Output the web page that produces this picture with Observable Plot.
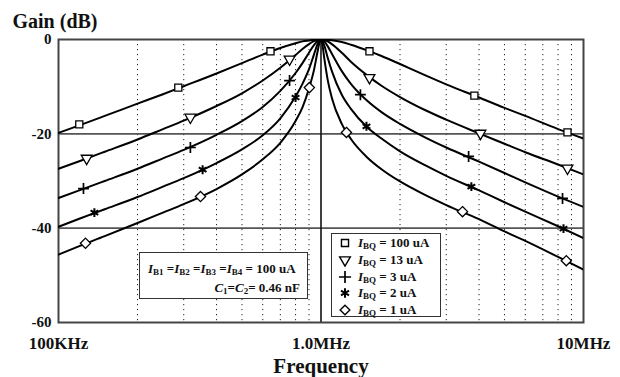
<!DOCTYPE html>
<html>
<head>
<meta charset="utf-8">
<script src="https://cdn.jsdelivr.net/npm/d3@7"></script>
<script src="https://cdn.jsdelivr.net/npm/@observablehq/plot@0.6"></script>
<style>
  html, body { margin: 0; padding: 0; background: #fff; }
  #wrap { position: relative; width: 620px; height: 377px; font-family: "Liberation Serif", "Times New Roman", serif; }
  .box { position: absolute; background: #fff; border: 1.5px solid #333; box-sizing: border-box; font-weight: bold; font-size: 13px; color: #111; }
  .box i { font-style: italic; }
  .box sub { font-size: 9px; vertical-align: -2px; line-height: 0; }
  .row { position: absolute; white-space: nowrap; line-height: 1; }
  .row svg { position: absolute; overflow: visible; }
</style>
</head>
<body>
<div id="wrap"></div>
<script>
// ---- data ----
const freqs = [1e5, 1.2e5, 1.5e5, 2e5, 2.5e5, 3e5, 4e5, 5e5, 6e5, 7e5, 8e5, 8.5e5, 9e5, 9.4e5, 9.7e5, 9.9e5,
               1e6, 1.01e6, 1.03e6, 1.06e6, 1.1e6, 1.2e6, 1.3e6, 1.5e6, 1.7e6, 2e6, 2.5e6, 3e6, 4e6, 5e6, 6e6, 8e6, 1e7];
const gain100uA = [-19.8, -18.2, -16.2, -13.6, -11.6, -9.9, -7.2, -5.0, -3.2, -1.8, -0.8, -0.4, -0.2, -0.06, -0.02, 0,
                   0, 0, -0.02, -0.06, -0.16, -0.55, -1.1, -2.3, -3.5, -5.2, -7.6, -9.5, -12.3, -14.5, -16.2, -19.0, -21.0];
const gain13uA = [-27.4, -25.8, -23.8, -21.2, -19.0, -17.2, -14.1, -11.4, -8.7, -6.0, -3.3, -2.0, -0.97, -0.36, -0.09, -0.01,
                  0, -0.01, -0.10, -0.39, -0.97, -2.8, -4.7, -7.6, -9.8, -12.2, -15.0, -17.0, -19.9, -22.1, -23.9, -26.5, -28.6];
const gain3uA = [-33.6, -32.0, -30.0, -27.4, -25.2, -23.4, -20.2, -17.3, -14.3, -10.9, -7.1, -5.0, -2.8, -1.2, -0.31, -0.04,
                 0, -0.05, -0.39, -1.4, -3.0, -6.7, -9.4, -13.0, -15.4, -17.9, -20.8, -22.9, -25.9, -28.3, -30.3, -33.3, -35.5];
const gain2uA = [-39.7, -38.0, -36.0, -33.4, -31.2, -29.4, -26.2, -23.3, -20.3, -16.7, -12.1, -9.4, -6.3, -3.2, -1.0, -0.12,
                 0, -0.17, -1.3, -3.8, -6.7, -11.7, -14.7, -18.6, -21.0, -23.7, -26.7, -28.9, -32.0, -34.5, -36.5, -39.6, -42.1];
const gain1uA = [-45.6, -43.8, -41.7, -38.9, -36.7, -34.9, -31.7, -28.6, -25.4, -21.9, -17.3, -14.4, -10.4, -6.5, -2.6, -0.38,
                 0, -0.71, -4.1, -8.5, -12.4, -17.9, -21.1, -25.0, -27.5, -30.1, -33.0, -35.1, -38.1, -40.7, -42.7, -46.1, -48.8];

// marker positions
const mk100Freq = [1.2e5, 2.86e5, 6.42e5, 1.53e6, 3.84e6, 8.69e6];
const mk100Gain = [-18.0, -10.2, -2.5, -2.5, -11.9, -19.7];
const mk13Freq = [1.28e5, 3.18e5, 7.59e5, 1.53e6, 4.05e6, 8.69e6];
const mk13Gain = [-25.2, -16.5, -4.2, -8.1, -19.9, -27.3];
const mk3Freq = [1.245e5, 3.18e5, 7.59e5, 1.413e6, 3.65e6, 8.32e6];
const mk3Gain = [-31.6, -22.9, -8.7, -11.7, -24.8, -33.7];
const mk2Freq = [1.37e5, 3.54e5, 8.0e5, 1.49e6, 3.74e6, 8.39e6];
const mk2Gain = [-36.7, -27.6, -12.3, -18.4, -31.2, -40.1];
const mk1Freq = [1.267e5, 3.475e5, 9.03e5, 1.25e6, 3.46e6, 8.6e6];
const mk1Gain = [-43.2, -33.3, -10.2, -19.7, -36.5, -46.9];

const seriesNames = ["100 uA", "13 uA", "3 uA", "2 uA", "1 uA"];
const yTicks = [0, -20, -40, -60];
const xTicks = [1e5, 1e6, 1e7];
const xTickLabels = ["100KHz", "1.0MHz", "10MHz"];
const minorTicks = [2e5, 3e5, 4e5, 5e5, 6e5, 7e5, 8e5, 9e5, 2e6, 3e6, 4e6, 5e6, 6e6, 7e6, 8e6, 9e6];
const majorY = [-20, -40];
const centerFreq = [1e6];

// ---- build tables ----
const curves = [gain100uA, gain13uA, gain3uA, gain2uA, gain1uA];
const lineData = curves.flatMap((g, s) => freqs.map((f, i) => ({f, g: g[i], s: seriesNames[s]})));
const toPts = (fs, gs) => fs.map((f, i) => ({f, g: gs[i]}));
const font = "Liberation Serif, Times New Roman, serif";

const dotStyle = {x: "f", y: "g", stroke: "#000", fill: "#fff", strokeWidth: 1.3};

const plot = Plot.plot({
  width: 620, height: 377,
  marginLeft: 58, marginRight: 37, marginTop: 39, marginBottom: 55,
  x: {type: "log", domain: [1e5, 1e7]},
  y: {domain: [-60, 0]},
  style: {fontFamily: font, background: "#fff", color: "#111"},
  marks: [
    Plot.ruleX(minorTicks, {stroke: "#222", strokeWidth: 1, strokeDasharray: "1.2,3.8"}),
    Plot.ruleY(majorY, {stroke: "#555", strokeWidth: 1.8}),
    Plot.ruleX(centerFreq, {stroke: "#111", strokeWidth: 1.6}),
    Plot.frame({stroke: "#444", strokeWidth: 2}),
    Plot.line(lineData, {x: "f", y: "g", z: "s", stroke: "#000", strokeWidth: 2, curve: "monotone-x", clip: true}),
    Plot.dot(toPts(mk100Freq, mk100Gain), {...dotStyle, symbol: "square", r: 4}),
    Plot.dot(toPts(mk13Freq, mk13Gain), {...dotStyle, symbol: "triangle", r: 4, rotate: 180}),
    Plot.dot(toPts(mk3Freq, mk3Gain), {...dotStyle, symbol: "plus", r: 3.6, strokeWidth: 1.7}),
    Plot.dot(toPts(mk2Freq, mk2Gain), {...dotStyle, symbol: "asterisk", r: 4.2, strokeWidth: 2}),
    Plot.dot(toPts(mk1Freq, mk1Gain), {...dotStyle, symbol: "diamond2", r: 4.6}),
    Plot.axisY(yTicks, {tickSize: 0, tickPadding: 7, fontSize: 15, fontWeight: "bold", label: null, tickFormat: d => String(d)}),
    Plot.axisX(xTicks, {tickSize: 0, tickPadding: 14, fontSize: 17, fontWeight: "bold", label: null,
      tickFormat: d => xTickLabels[xTicks.indexOf(d)]}),
    Plot.text(["Gain (dB)"], {frameAnchor: "top-left", textAnchor: "start", lineAnchor: "bottom",
      dx: -46, dy: -12, fontSize: 20, fontWeight: "bold"}),
    Plot.text(["Frequency"], {frameAnchor: "bottom", lineAnchor: "bottom", dy: 50, fontSize: 21, fontWeight: "bold"})
  ]
});

const wrap = document.getElementById("wrap");
wrap.appendChild(plot);

// ---- legend box ----
const symbolTypes = [
  {t: d3.symbolSquare, size: 50, rot: 0, w: 1.4},
  {t: d3.symbolTriangle, size: 50, rot: 180, w: 1.4},
  {t: d3.symbolPlus, size: 50, rot: 0, w: 1.7},
  {t: d3.symbolAsterisk, size: 60, rot: 0, w: 2},
  {t: d3.symbolDiamond2, size: 60, rot: 0, w: 1.4}
];
const legend = document.createElement("div");
legend.className = "box";
Object.assign(legend.style, {left: "331px", top: "233px", width: "110px", height: "84px"});
seriesNames.forEach((name, i) => {
  const row = document.createElement("div");
  row.className = "row";
  row.style.left = "26px";
  row.style.top = (2 + i * 16.8) + "px";
  row.innerHTML = `<i>I</i><sub>BQ</sub> = ${name}`;
  const svg = d3.create("svg").attr("width", 12).attr("height", 12)
    .style("left", "-19px").style("top", "1px");
  svg.append("path").attr("d", d3.symbol(symbolTypes[i].t, symbolTypes[i].size)())
    .attr("transform", `translate(6,6) rotate(${symbolTypes[i].rot})`)
    .attr("fill", "#fff").attr("stroke", "#000").attr("stroke-width", symbolTypes[i].w);
  row.appendChild(svg.node());
  legend.appendChild(row);
});
wrap.appendChild(legend);

// ---- annotation box ----
const note = document.createElement("div");
note.className = "box";
Object.assign(note.style, {left: "139px", top: "252px", width: "169px", height: "47px"});
note.innerHTML = `<div class="row" style="left:8px;top:9px"><i>I</i><sub>B1</sub> =<i>I</i><sub>B2</sub> =<i>I</i><sub>B3</sub> =<i>I</i><sub>B4</sub> = 100 uA</div>
<div class="row" style="right:7px;top:28px"><i>C</i><sub>1</sub>=<i>C</i><sub>2</sub>= 0.46 nF</div>`;
wrap.appendChild(note);
</script>
</body>
</html>
